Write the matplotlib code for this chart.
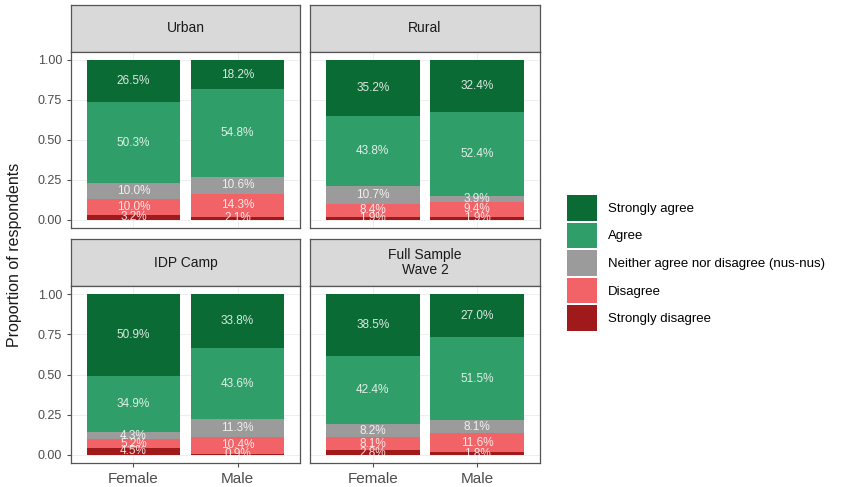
import numpy as np
import matplotlib
matplotlib.use("Agg")
import matplotlib.pyplot as plt
from matplotlib.patches import Patch

plt.rcParams["font.family"] = ["Liberation Sans", "DejaVu Sans"]

# survey responses, proportion per gender, stacked from the bottom
panels = ["Urban", "Rural", "IDP Camp", "Full Sample\nWave 2"]
genders = ["Female", "Male"]
levels = ["Strongly disagree", "Disagree",
          "Neither agree nor disagree (nus-nus)", "Agree", "Strongly agree"]
colors = ["#a01a1c", "#f26368", "#9b9b9b", "#2f9e68", "#0b6b35"]

strongly_disagree = [[3.2, 2.1], [1.9, 1.9], [4.5, 0.9], [2.8, 1.8]]
disagree = [[10.0, 14.3], [8.4, 9.4], [5.2, 10.4], [8.1, 11.6]]
neutral = [[10.0, 10.6], [10.7, 3.9], [4.3, 11.3], [8.2, 8.1]]
agree = [[50.3, 54.8], [43.8, 52.4], [34.9, 43.6], [42.4, 51.5]]
strongly_agree = [[26.5, 18.2], [35.2, 32.4], [50.9, 33.8], [38.5, 27.0]]

values = np.array([strongly_disagree, disagree, neutral, agree, strongly_agree])

W, H = 868, 487
fig = plt.figure(figsize=(W / 100, H / 100), dpi=100)


def px(x0, y0, x1, y1):
    return [x0 / W, 1 - y1 / H, (x1 - x0) / W, (y1 - y0) / H]


cols = [(71, 300), (310, 540)]
rows = [(5, 52, 228), (239, 286, 463)]
edge = "#555555"
tick_col = "#4d4d4d"

for p, name in enumerate(panels):
    r, c = divmod(p, 2)
    x0, x1 = cols[c]
    h0, h1, y1 = rows[r]

    # strip header
    hax = fig.add_axes(px(x0, h0, x1, h1))
    hax.set_facecolor("#d9d9d9")
    hax.set_xticks([])
    hax.set_yticks([])
    for s in hax.spines.values():
        s.set_color(edge)
        s.set_linewidth(0.9)
    hax.text(0.5, 0.5, name, ha="center", va="center", fontsize=10,
             color="#1a1a1a", linespacing=1.0, transform=hax.transAxes)

    ax = fig.add_axes(px(x0, h1, x1, y1))
    ax.set_xlim(0.4, 2.6)
    ax.set_ylim(-0.05, 1.05)
    ax.set_axisbelow(True)
    ax.grid(True, color="#ebebeb", linewidth=0.6)
    for s in ax.spines.values():
        s.set_color(edge)
        s.set_linewidth(0.9)

    xs = np.arange(1, len(genders) + 1)
    bottom = np.zeros(len(genders))
    for k in range(len(levels)):
        h = values[k, p] / 100.0
        ax.bar(xs, h, bottom=bottom, width=0.9, color=colors[k], linewidth=0)
        for i, x in enumerate(xs):
            ax.text(x, bottom[i] + h[i] / 2, f"{values[k, p][i]:.1f}%",
                    ha="center", va="center", fontsize=8.5,
                    color="white", alpha=0.85)
        bottom += h

    ax.set_yticks([0, 0.25, 0.5, 0.75, 1.0])
    ax.set_xticks(xs)
    ax.tick_params(colors=tick_col, length=3, width=0.8)
    if c == 0:
        ax.set_yticklabels(["0.00", "0.25", "0.50", "0.75", "1.00"],
                           fontsize=9, color=tick_col)
    else:
        ax.tick_params(axis="y", length=0)
        ax.set_yticklabels([])
    if r == 1:
        ax.set_xticklabels(genders, fontsize=11, color=tick_col)
    else:
        ax.tick_params(axis="x", length=0)
        ax.set_xticklabels([])

fig.text(15 / W, 1 - 255 / H, "Proportion of respondents", rotation=90,
         ha="center", va="center", fontsize=11.5, color="#1a1a1a")

handles = [Patch(facecolor=colors[k], edgecolor="none", label=levels[k])
           for k in range(len(levels) - 1, -1, -1)]
fig.legend(handles=handles, loc="center left",
           bbox_to_anchor=(567 / W, 1 - 263 / H), frameon=False,
           fontsize=9.5, handlelength=2.3, handleheight=2.6,
           labelspacing=0.15, handletextpad=0.8, borderaxespad=0,
           borderpad=0)

fig.savefig("out.png", dpi=100)
